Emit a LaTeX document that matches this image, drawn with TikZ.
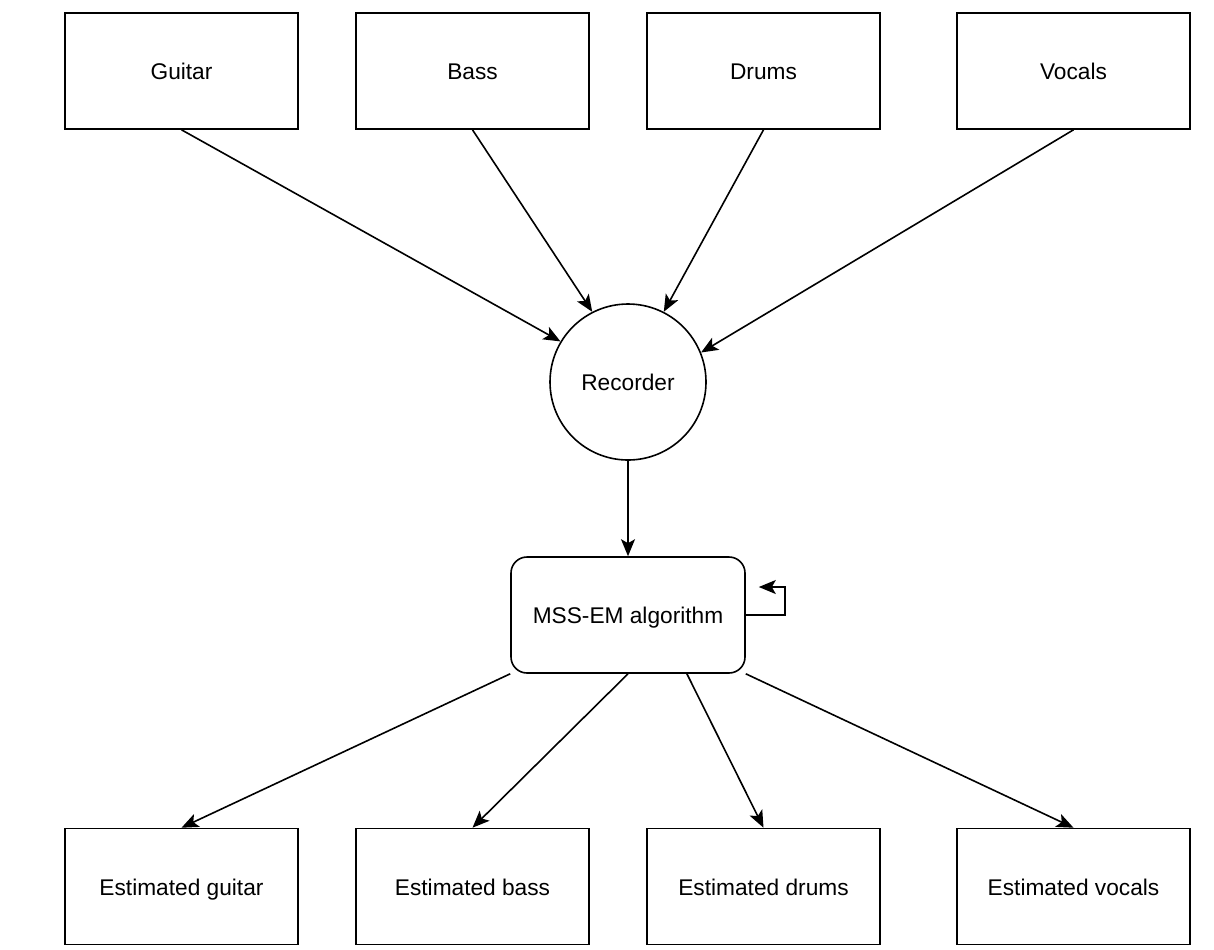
\documentclass[tikz,border=0pt]{standalone}
\usepackage{fontspec}
\setmainfont{Liberation Sans}
\usetikzlibrary{arrows.meta,calc}
\begin{document}
\begin{tikzpicture}[x=0.5pt,y=-0.5pt,
  font=\fontsize{11.35}{13.6}\selectfont,
  every node/.append style={text height=2ex, text depth=0.35ex},
  srcbox/.style={draw, line width=0.8pt, minimum width=116.5pt, minimum height=58pt, inner sep=0pt},
  algbox/.style={draw, line width=0.8pt, rounded corners=8pt, minimum width=117pt, minimum height=58pt, inner sep=0pt},
  recnode/.style={draw, line width=0.8pt, circle, minimum size=78pt, inner sep=0pt},
  flow/.style={line width=0.8pt, -{Stealth[length=8.5pt,width=7pt,inset=2pt]}}]
  \useasboundingbox (0,0) rectangle (1214,949);

  % instrument sources
  \node[srcbox] (guitar) at (181.5,71) {Guitar};
  \node[srcbox] (bass)   at (472.5,71) {Bass};
  \node[srcbox] (drums)  at (763.5,71) {Drums};
  \node[srcbox] (vocals) at (1073.5,71) {Vocals};

  % recording and separation
  \node[recnode] (rec) at (628,382) {Recorder};
  \node[algbox] (mss) at (628,615) {MSS-EM algorithm};

  % separated estimates
  \node[srcbox] (eguitar) at (181.5,886.5) {Estimated guitar};
  \node[srcbox] (ebass)   at (472.5,886.5) {Estimated bass};
  \node[srcbox] (edrums)  at (763.5,886.5) {Estimated drums};
  \node[srcbox] (evocals) at (1073.5,886.5) {Estimated vocals};

  % sources into the recorder
  \draw[flow] (guitar.south) -- (rec.149);
  \draw[flow] (bass.south) -- (rec.117);
  \draw[flow] (drums.south) -- (rec.63);
  \draw[flow] (vocals.south) -- (rec.22);

  % recorder into the algorithm
  \draw[flow] (rec.south) -- (mss.north);

  % iteration loop
  \coordinate (loopend) at ($(mss.east)+(13,-28)$);
  \draw[flow] (mss.east) -- ++(39,0) |- (loopend);

  % algorithm outputs
  \draw[flow] (mss.south west) -- (eguitar.north);
  \draw[flow] (mss.south) -- (ebass.north);
  \draw[flow] ($(mss.south)!0.5!(mss.south east)$) -- (edrums.north);
  \draw[flow] (mss.south east) -- (evocals.north);
\end{tikzpicture}
\end{document}
